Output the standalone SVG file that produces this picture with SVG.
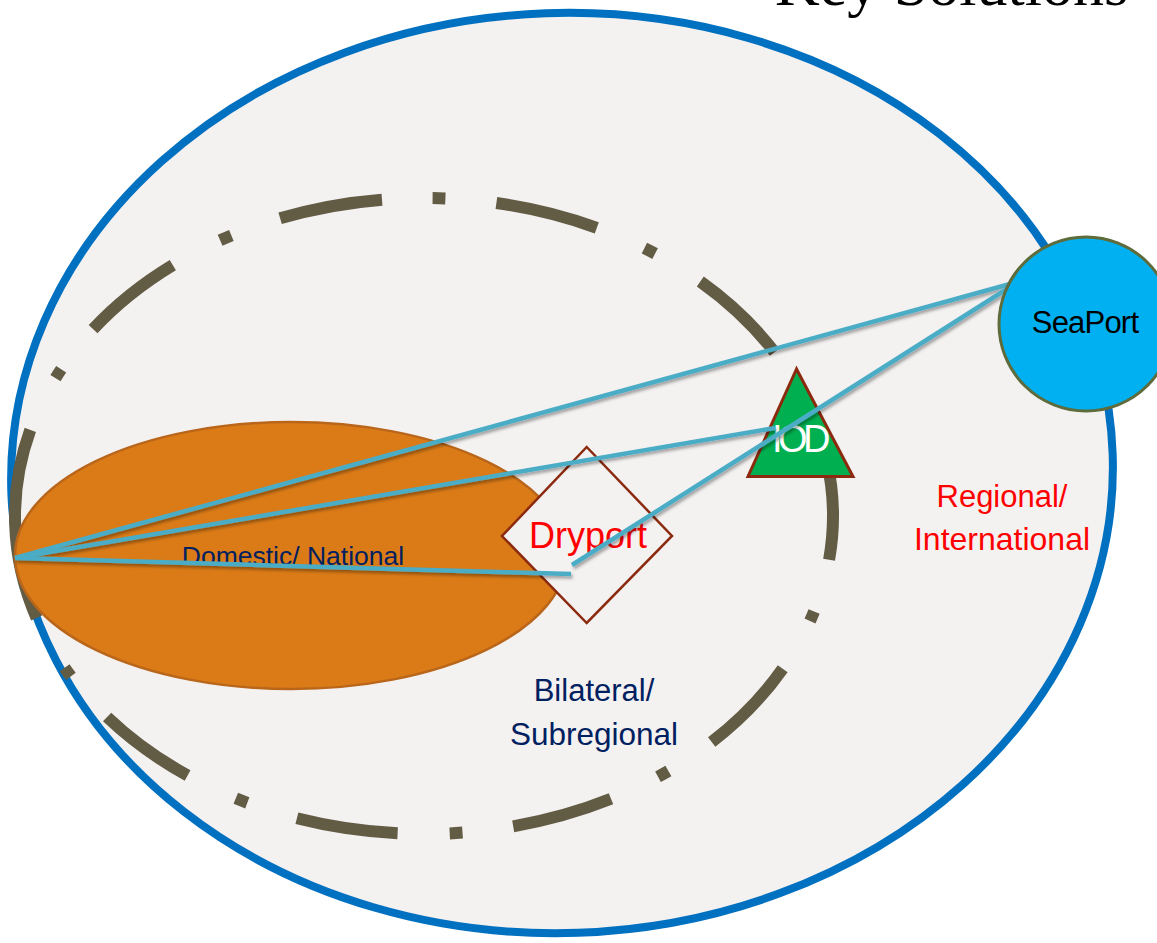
<svg xmlns="http://www.w3.org/2000/svg" width="1157" height="943" viewBox="0 0 1157 943">
<defs>
<style>
.ring{fill:none;stroke:#625C45;stroke-width:12;stroke-linecap:butt}
.conn{fill:none;stroke:#4BACC6;stroke-width:4.5;stroke-linecap:butt}
.lbl{font-family:"Liberation Sans",Arial,sans-serif;text-anchor:middle}
</style>
<filter id="sh" x="-5%" y="-20%" width="110%" height="140%">
<feDropShadow dx="1.5" dy="2.5" stdDeviation="1.5" flood-color="#000" flood-opacity="0.35"/>
</filter>
</defs>
<rect width="1157" height="943" fill="#FFFFFF"/>
<text x="775" y="5" font-family="'Liberation Serif',serif" font-size="62" fill="#000">Key Solutions</text>
<g id="regional">
<ellipse cx="562" cy="473" rx="551" ry="460" transform="rotate(-2 562 473)" fill="#F4F1F1" stroke="#0070C0" stroke-width="8"/>
</g>
<g id="subregional-ring">
<path class="ring" d="M826.8 460.8 A409 318 0 0 1 829.1 559.7"/>
<path class="ring" d="M814.1 611.6 A409 318 0 0 1 810.0 621.1"/>
<path class="ring" d="M782.7 668.7 A409 318 0 0 1 711.7 742.0"/>
<path class="ring" d="M668.4 771.0 A409 318 0 0 1 658.0 776.8"/>
<path class="ring" d="M611.0 798.8 A409 318 0 0 1 513.2 826.3"/>
<path class="ring" d="M462.5 832.6 A409 318 0 0 1 449.7 833.4"/>
<path class="ring" d="M397.6 833.3 A409 318 0 0 1 296.9 818.3"/>
<path class="ring" d="M247.3 802.8 A409 318 0 0 1 235.8 798.3"/>
<path class="ring" d="M187.6 775.5 A409 318 0 0 1 107.1 717.0"/>
<path class="ring" d="M70.9 676.4 A409 318 0 0 1 64.6 667.7"/>
<path class="ring" d="M36.6 618.0 A409 318 0 0 1 30.3 429.9"/>
<path class="ring" d="M55.5 378.1 A409 318 0 0 1 61.2 369.2"/>
<path class="ring" d="M93.1 329.1 A409 318 0 0 1 172.8 265.1"/>
<path class="ring" d="M220.1 240.3 A409 318 0 0 1 231.4 235.5"/>
<path class="ring" d="M280.1 218.3 A409 318 0 0 1 382.0 199.7"/>
<path class="ring" d="M432.6 198.1 A409 318 0 0 1 445.4 198.4"/>
<path class="ring" d="M496.4 203.0 A409 318 0 0 1 596.8 227.8"/>
<path class="ring" d="M644.4 248.1 A409 318 0 0 1 655.1 253.6"/>
<path class="ring" d="M700.3 281.5 A409 318 0 0 1 774.6 352.2"/>
</g>
<g id="domestic">
<ellipse cx="291" cy="555.5" rx="276" ry="133.5" fill="#DB7B17" stroke="#B9661A" stroke-width="2.5"/>
<text class="lbl" x="293" y="565" font-size="26.5" fill="#002060">Domestic/ National</text>
</g>
<g id="dryport">
<polygon points="586.7,447 672,536 586.7,623 502,536" fill="#F4F1F1" stroke="#8B2A0E" stroke-width="2.5"/>
<text class="lbl" x="588" y="548" font-size="36" fill="#FF0000">Dryport</text>
</g>
<g id="icd">
<polygon points="796.5,369 748,476.5 853,476.5" fill="#00B050" stroke="#8B2A0E" stroke-width="3"/>
<text x="772" y="452" font-family="'Liberation Sans',Arial,sans-serif" font-size="38" letter-spacing="-4.5" fill="#FFFFFF">IOD</text>
</g>
<g id="labels">
<text class="lbl" x="1002" y="507" font-size="31" fill="#FF0000">Regional/</text>
<text class="lbl" x="1002" y="550" font-size="32" fill="#FF0000">International</text>
<text class="lbl" x="594" y="701" font-size="31" fill="#002060">Bilateral/</text>
<text class="lbl" x="594" y="745" font-size="31.5" fill="#002060">Subregional</text>
</g>
<g id="connectors" filter="url(#sh)">
<line class="conn" x1="15" y1="558" x2="1010" y2="284"/>
<line class="conn" x1="15" y1="558" x2="775" y2="428"/>
<line class="conn" x1="15" y1="558" x2="571" y2="574"/>
<line class="conn" x1="572" y1="565" x2="1010" y2="287"/>
</g>
<g id="seaport">
<circle cx="1086" cy="324" r="87" fill="#00B0F0" stroke="#5E6B3B" stroke-width="3"/>
<text class="lbl" x="1085" y="333" font-size="31" letter-spacing="-0.8" fill="#000000">SeaPort</text>
</g>
</svg>
